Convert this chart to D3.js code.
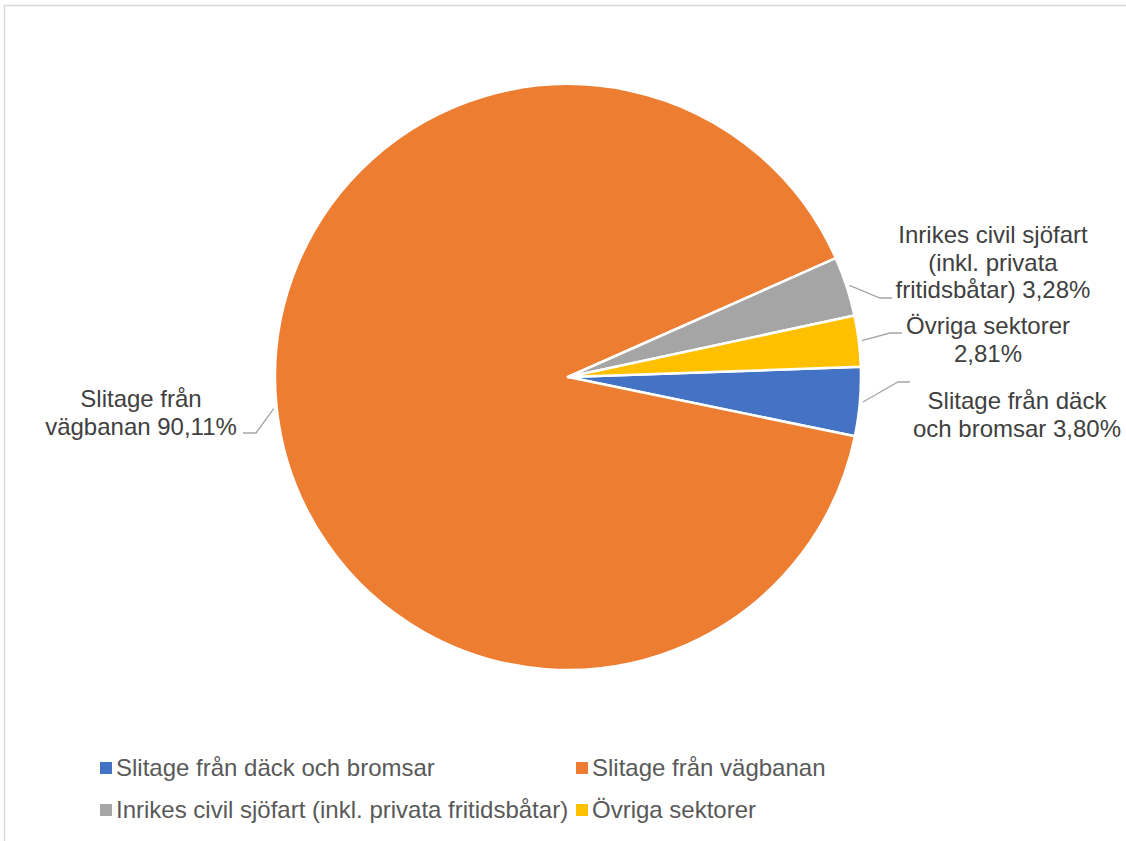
<!DOCTYPE html>
<html>
<head>
<meta charset="utf-8">
<script src="https://cdn.jsdelivr.net/npm/d3@7"></script>
<style>
  html, body { margin: 0; padding: 0; background: #ffffff; }
  svg { display: block; font-family: "Liberation Sans", Arial, sans-serif; }
</style>
</head>
<body>
<svg id="chart" width="1126" height="841"></svg>
<script>
// Sector shares of wear emissions (%)
const categories = [
  "Slitage från däck och bromsar",
  "Slitage från vägbanan",
  "Inrikes civil sjöfart (inkl. privata fritidsbåtar)",
  "Övriga sektorer"
];
const shares = [3.80, 90.11, 3.28, 2.81];
const colors = ["#4472C4", "#ED7D31", "#A5A5A5", "#FFC000"];

// Label text split into lines; the last line ends with the share
const labelLines = [
  ["Slitage från däck", "och bromsar"],
  ["Slitage från", "vägbanan"],
  ["Inrikes civil sjöfart", "(inkl. privata", "fritidsbåtar)"],
  ["Övriga sektorer", ""]
];

const W = 1126, H = 841;
const cx = 568, cy = 377, R = 293;
const firstSliceDeg = 88;

// Label layout: leader elbow, leader end, text centre x and first baseline y
const labelLayout = [
  { elbow: [898, 382], end: [910, 382], tx: 1017, ty: 409 },
  { elbow: [256, 433], end: [243, 433], tx: 141, ty: 407 },
  { elbow: [880, 298], end: [892, 298], tx: 993, ty: 243 },
  { elbow: [890, 333], end: [902, 333], tx: 988, ty: 334 }
];

const svg = d3.select("#chart");

// chart area border
svg.append("rect")
  .attr("x", 4.5).attr("y", 5.5)
  .attr("width", W + 20).attr("height", H + 20)
  .attr("fill", "#ffffff")
  .attr("stroke", "#d9d9d9")
  .attr("stroke-width", 1.5);

const data = categories.map((c, i) => ({ name: c, value: shares[i], color: colors[i], i }));

const start = firstSliceDeg * Math.PI / 180;
const pie = d3.pie().value(d => d.value).sort(null)
  .startAngle(start).endAngle(start + 2 * Math.PI);
const arcs = pie(data);

const arc = d3.arc().innerRadius(0).outerRadius(R);
const edgeArc = d3.arc().innerRadius(R + 3).outerRadius(R + 3);

const g = svg.append("g").attr("transform", `translate(${cx},${cy})`);

g.selectAll("path.slice")
  .data(arcs)
  .join("path")
  .attr("class", "slice")
  .attr("d", arc)
  .attr("fill", d => d.data.color)
  .attr("stroke", "#ffffff")
  .attr("stroke-width", 2.5)
  .attr("stroke-linejoin", "round");

const fmt = v => d3.format(".2f")(v).replace(".", ",") + "%";

// leader lines
svg.append("g").selectAll("polyline")
  .data(arcs)
  .join("polyline")
  .attr("points", d => {
    const [x, y] = edgeArc.centroid(d);
    const L = labelLayout[d.data.i];
    return [[x + cx, y + cy], L.elbow, L.end].map(p => p.join(",")).join(" ");
  })
  .attr("fill", "none")
  .attr("stroke", "#a6a6a6")
  .attr("stroke-width", 1.3);

// data labels
const labels = svg.append("g")
  .attr("font-size", 24)
  .attr("fill", "#404040")
  .attr("text-anchor", "middle");

arcs.forEach(d => {
  const L = labelLayout[d.data.i];
  const lines = labelLines[d.data.i].slice();
  const last = lines.length - 1;
  lines[last] = (lines[last] ? lines[last] + " " : "") + fmt(d.data.value);
  const t = labels.append("text").attr("x", L.tx).attr("y", L.ty);
  lines.forEach((ln, k) => {
    t.append("tspan").attr("x", L.tx).attr("dy", k === 0 ? 0 : 27.5).text(ln);
  });
});

// legend
const legendPos = [[100, 768], [576, 768], [100, 810], [576, 810]];
const legend = svg.append("g").attr("font-size", 24).attr("fill", "#595959");
data.forEach((d, i) => {
  const [x, y] = legendPos[i];
  legend.append("rect")
    .attr("x", x).attr("y", y - 6).attr("width", 12).attr("height", 12)
    .attr("fill", d.color);
  legend.append("text")
    .attr("x", x + 16).attr("y", y + 8)
    .text(d.name);
});
</script>
</body>
</html>
